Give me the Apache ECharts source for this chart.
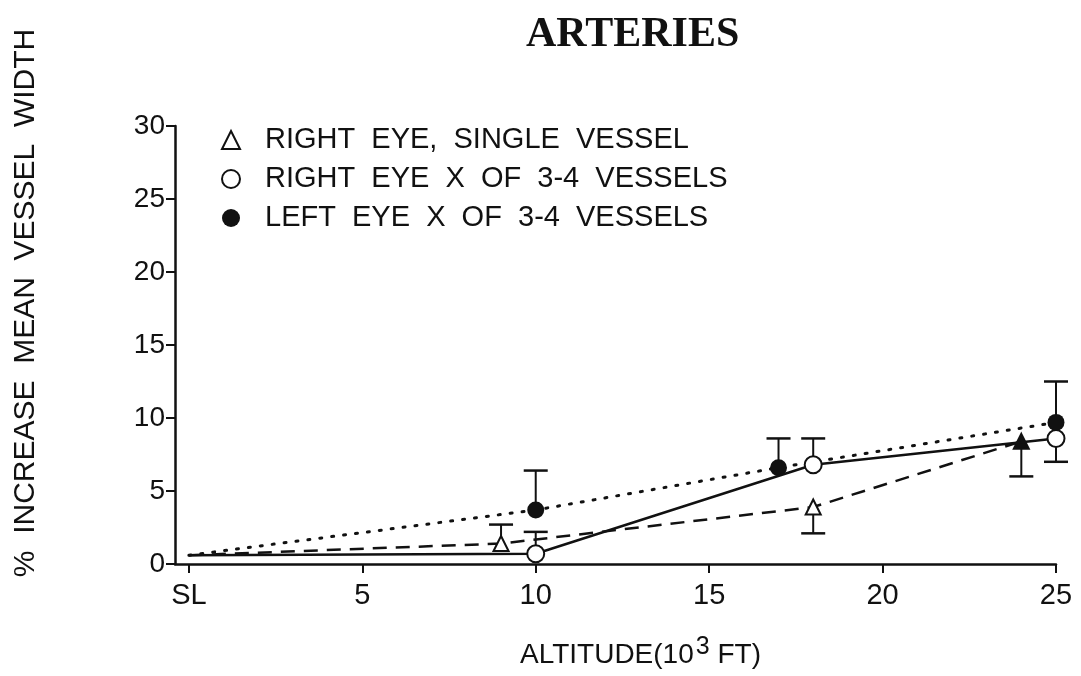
<!DOCTYPE html>
<html><head><meta charset="utf-8">
<script src="https://cdn.jsdelivr.net/npm/echarts@6/dist/echarts.min.js"></script>
<style>html,body{margin:0;padding:0;background:#fff}#c{width:1081px;height:676px}</style>
</head><body><div id="c"></div>
<script>
// ---- data ----
const xTicks = [0, 5, 10, 15, 20, 25];
const xTickLabels = ['SL', '5', '10', '15', '20', '25'];
const seriesNames = ['RIGHT  EYE,  SINGLE  VESSEL', 'RIGHT  EYE  X  OF  3-4  VESSELS', 'LEFT  EYE  X  OF  3-4  VESSELS'];
// [altitude (10^3 ft), % increase]
const rightSingle = [[0, 0.6], [9, 1.4], [18, 3.9], [24, 8.4]];
const rightMean   = [[0, 0.6], [10, 0.7], [18, 6.8], [25, 8.6]];
const leftMean    = [[0, 0.6], [10, 3.7], [17, 6.6], [25, 9.7]];
// error bars: [altitude, mean, bar end]
const rightSingleErr = [[9, 1.4, 2.7], [18, 3.9, 2.1], [24, 8.4, 6.0]];
const rightMeanErr   = [[10, 0.7, 2.2], [18, 6.8, 8.6], [25, 8.6, 7.0]];
const leftMeanErr    = [[10, 3.7, 6.4], [17, 6.6, 8.6], [25, 9.7, 12.5]];

const INK = '#111';
const FONT = '"Liberation Sans", Arial, sans-serif';

function pts(arr, filledLast) {
  return arr.map((p, i) => {
    const o = { value: p };
    if (p[0] === 0) o.symbol = 'none';
    if (filledLast && i === arr.length - 1) o.itemStyle = { color: INK };
    return o;
  });
}

function errItem(params, api) {
  const x = api.value(0), y = api.value(1), e = api.value(2);
  const p0 = api.coord([x, y]);
  const p1 = api.coord([x, e]);
  const hw = 12;
  return {
    type: 'group',
    children: [
      { type: 'line', shape: { x1: p0[0], y1: p0[1], x2: p1[0], y2: p1[1] }, style: { stroke: INK, lineWidth: 2 } },
      { type: 'line', shape: { x1: p1[0] - hw, y1: p1[1], x2: p1[0] + hw, y2: p1[1] }, style: { stroke: INK, lineWidth: 2.5 } }
    ]
  };
}

const chart = echarts.init(document.getElementById('c'), null, { renderer: 'canvas' });
chart.setOption({
  animation: false,
  backgroundColor: '#fff',
  title: {
    text: 'ARTERIES',
    left: 521, top: 9,
    textStyle: { fontFamily: '"Liberation Serif", "DejaVu Serif", serif', fontWeight: 'bold', fontSize: 42, color: INK }
  },
  legend: {
    orient: 'vertical',
    left: 216, top: 120,
    itemWidth: 18, itemHeight: 18, itemGap: 9,
    textStyle: { fontFamily: FONT, fontSize: 29, color: INK, lineHeight: 30, padding: [0, 0, 0, 20] },
    data: [
      { name: seriesNames[0], icon: 'triangle', itemStyle: { color: '#fff', borderColor: INK, borderWidth: 2 } },
      { name: seriesNames[1], icon: 'circle', itemStyle: { color: '#fff', borderColor: INK, borderWidth: 2 } },
      { name: seriesNames[2], icon: 'circle', itemStyle: { color: INK, borderColor: INK, borderWidth: 0 } }
    ]
  },
  grid: { left: 175, right: 25, top: 126, bottom: 112, containLabel: false },
  xAxis: {
    type: 'value', min: -0.4, max: 25,
    name: 'ALTITUDE(10{sup|3} FT)',
    nameLocation: 'middle', nameGap: 71,
    nameTextStyle: {
      fontFamily: FONT, fontSize: 28, color: INK, padding: [0, 0, 0, 50],
      rich: { sup: { fontFamily: FONT, fontSize: 25, color: INK, verticalAlign: 'bottom', padding: [0, 0, 16, 2] } }
    },
    axisLine: { show: true, onZero: false, lineStyle: { color: INK, width: 2.5 } },
    axisTick: { show: true, inside: false, length: 9, customValues: xTicks, lineStyle: { color: INK, width: 2 } },
    axisLabel: {
      customValues: xTicks, margin: 17,
      fontFamily: FONT, fontSize: 29, color: INK,
      formatter: v => xTickLabels[xTicks.indexOf(v)] ?? ''
    },
    splitLine: { show: false }
  },
  yAxis: {
    type: 'value', min: 0, max: 30, interval: 5,
    name: '%  INCREASE  MEAN  VESSEL  WIDTH',
    nameLocation: 'middle', nameRotate: 90, nameGap: 134,
    nameTextStyle: { fontFamily: FONT, fontSize: 30, color: INK, padding: [0, 0, 0, 84] },
    axisLine: { show: true, onZero: false, lineStyle: { color: INK, width: 2.5 } },
    axisTick: { show: true, inside: false, length: 9, lineStyle: { color: INK, width: 2 } },
    axisLabel: { margin: 10, fontFamily: FONT, fontSize: 28, color: INK },
    splitLine: { show: false }
  },
  series: [
    {
      name: seriesNames[0], type: 'line', z: 3,
      data: pts(rightSingle, true),
      symbol: 'triangle', symbolSize: 15,
      lineStyle: { color: INK, width: 2.5, type: [14, 9] },
      itemStyle: { color: '#fff', borderColor: INK, borderWidth: 2 }
    },
    {
      name: seriesNames[1], type: 'line', z: 4,
      data: pts(rightMean, false),
      symbol: 'circle', symbolSize: 17,
      lineStyle: { color: INK, width: 2.5, type: 'solid' },
      itemStyle: { color: '#fff', borderColor: INK, borderWidth: 2 }
    },
    {
      name: seriesNames[2], type: 'line', z: 3,
      data: pts(leftMean, false),
      symbol: 'circle', symbolSize: 17,
      lineStyle: { color: INK, width: 3, type: [2, 10], cap: 'round' },
      itemStyle: { color: INK, borderColor: INK, borderWidth: 0 }
    },
    { type: 'custom', z: 1, renderItem: errItem, data: rightSingleErr, silent: true },
    { type: 'custom', z: 1, renderItem: errItem, data: rightMeanErr, silent: true },
    { type: 'custom', z: 1, renderItem: errItem, data: leftMeanErr, silent: true }
  ]
});
</script>
</body></html>
